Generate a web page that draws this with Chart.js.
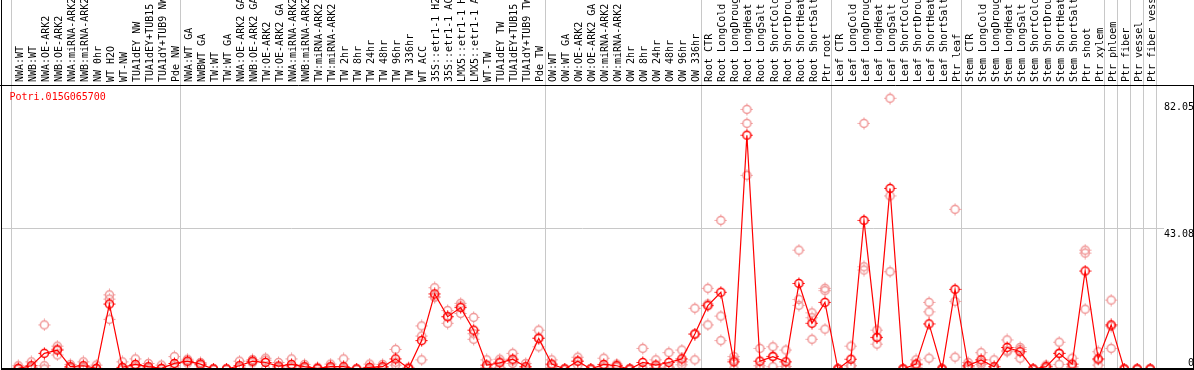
<!DOCTYPE html>
<html>
<head>
<meta charset="utf-8">
<script src="https://cdn.jsdelivr.net/npm/chart.js@4/dist/chart.umd.min.js"></script>
<style>
html,body{margin:0;padding:0;background:#fff;}
#wrap{width:1194px;height:370px;}
</style>
</head>
<body>
<div id="wrap"><canvas id="chart"></canvas></div>
<script>
const GENE="Potri.015G065700";

const categories=[
  "NWA:WT","NWB:WT","NWA:OE-ARK2","NWB:OE-ARK2","NWA:miRNA-ARK2","NWB:miRNA-ARK2","NW 0hr","WT H2O","WT-NW","TUA1dEY NW","TUA1dEY+TUB15 NW","TUA1dY+TUB9 NW","Pde NW",
  "NWA:WT GA","NWBWT GA","TW:WT","TW:WT GA","NWA:OE-ARK2 GA","NWB:OE-ARK2 GA","TW:OE-ARK2","TW:OE-ARK2 GA","NWA:miRNA-ARK2 GA","NWB:miRNA-ARK2 GA","TW:miRNA-ARK2","TW:miRNA-ARK2 GA",
  "TW 2hr","TW 8hr","TW 24hr","TW 48hr","TW 96hr","TW 336hr","WT ACC","35S::etr1-1 H2O","35S::etr1-1 ACC","LMX5::etr1-1 H2O","LMX5::etr1-1 ACC","WT-TW","TUA1dEY TW","TUA1dEY+TUB15 TW","TUA1dY+TUB9 TW","Pde TW",
  "OW:WT","OW:WT GA","OW:OE-ARK2","OW:OE-ARK2 GA","OW:miRNA-ARK2","OW:miRNA-ARK2 GA","OW 2hr","OW 8hr","OW 24hr","OW 48hr","OW 96hr","OW 336hr",
  "Root CTR","Root LongCold","Root LongDrought","Root LongHeat","Root LongSalt","Root ShortCold","Root ShortDrought","Root ShortHeat","Root ShortSalt","Ptr root",
  "Leaf CTR","Leaf LongCold","Leaf LongDrought","Leaf LongHeat","Leaf LongSalt","Leaf ShortCold","Leaf ShortDrought","Leaf ShortHeat","Leaf ShortSalt","Ptr leaf",
  "Stem CTR","Stem LongCold","Stem LongDrought","Stem LongHeat","Stem LongSalt","Stem ShortCold","Stem ShortDrought","Stem ShortHeat","Stem ShortSalt","Ptr shoot","Ptr xylem",
  "Ptr phloem","Ptr fiber","Ptr vessel","Ptr fiber vessel"
];
// index where each sample group starts (vertical separators)
const groupStarts=[0,13,41,53,63,73,84,85,86,87];

const means=[
  0.2,1.0,4.8,5.8,0.7,1.0,0.2,19.9,0.5,1.4,0.7,0.2,1.7,
  2.4,1.5,0,0,1.0,2.4,2.0,0.9,1.4,0.7,0.2,0.7,0.7,0,0.5,0.7,3.1,0.2,8.7,23.0,16.0,18.8,11.9,1.2,1.9,3.0,0.7,9.4,
  1.5,0,2.4,0,1.4,1.0,0,2.0,1.2,2.0,3.1,10.7,
  19.4,23.5,2.2,71.6,2.4,3.8,2.2,26.2,14.0,20.4,
  0,3.0,45.5,9.7,55.3,0,1.5,13.8,0,24.4,
  1.0,2.8,0.7,6.6,5.3,0,0.7,4.8,1.5,30.0,3.1,
  13.5,0,0,0
];
const rep1=[
  1.0,2.2,13.5,7.0,1.4,2.2,1.2,22.7,2.2,3.1,1.7,1.2,3.8,
  3.0,2.0,0,0,2.4,2.9,3.3,2.0,3.1,1.4,0.5,1.5,3.1,0,1.5,1.4,6.0,0.5,13.2,24.9,17.9,20.1,15.8,2.8,3.0,4.8,1.7,11.9,
  2.8,0,3.6,0,3.3,1.5,0,6.3,2.8,5.0,5.8,18.6,
  24.7,45.5,3.8,79.5,6.3,6.8,5.8,36.4,17.2,24.7,
  0,7.0,75.2,11.9,82.9,0,2.8,20.4,0,48.9,
  2.0,5.0,2.8,8.9,6.0,0,1.2,8.2,3.3,36.4,5.3,
  21.1,0,0,0
];
const rep2=[
  0,0.5,1.0,4.3,0.5,0.5,0,21.4,0,0.8,0.4,0,1.0,
  2.4,1.5,0,0,0.5,2.4,2.7,0.5,0.8,0.5,0,0.4,0,0,0,0.5,2.1,0,10.1,22.1,16.1,19.3,10.8,0.5,2.2,2.5,0.3,9.5,
  1.2,0,2.4,0,0.6,1.0,0,0,0.5,0.6,2.2,10.7,
  19.9,16.2,2.8,75.2,1.0,3.9,0.8,21.3,15.7,24.0,
  0,1.0,31.3,9.6,53.0,0,1.2,17.5,0,20.7,
  0.7,2.0,0,5.6,6.6,0,0.7,4.8,0.8,35.5,2.8,
  13.1,0,0,0
];
const rep3=[
  0,0.3,0,6.1,0.2,0.3,0,15.2,0,0.3,0,0,0.3,
  1.8,1.0,0,0,0.1,1.9,0,0.2,0.3,0.2,0,0.2,0,0,0,0.2,1.2,0,2.8,22.0,14.0,17.0,9.1,0.3,0.5,1.7,0,6.8,
  0.5,0,1.2,0,0.3,0.5,0,0,0.3,0.4,1.3,2.8,
  13.5,8.7,0,59.3,0,0.7,0,19.5,9.1,12.2,
  0,1.0,30.3,7.6,29.8,0,0.5,3.3,0,3.6,
  0.3,1.4,0,5.3,3.3,0,0.2,1.4,0.4,18.3,1.2,
  6.3,0,0,0
];
const yTicks=[0,43.08,82.05];
const yMax=86.97;
const xMin=-1.33, xMax=88.06;

const RED="#ff0000", PINK="rgb(240,150,150)", GRID="#c8c8c8";
const MONO="'DejaVu Sans Mono', monospace";

// small ring marker with four tick marks, like the original plot symbol
function marker(color){
  const c=document.createElement("canvas");
  c.width=13; c.height=13;
  const g=c.getContext("2d");
  g.strokeStyle=color; g.lineWidth=1.5;
  g.beginPath(); g.arc(6.5,6.5,4,0,Math.PI*2); g.stroke();
  g.lineWidth=1;
  g.beginPath();
  g.moveTo(6.5,0.5); g.lineTo(6.5,2.5);
  g.moveTo(6.5,10.5); g.lineTo(6.5,12.5);
  g.moveTo(0.5,6.5); g.lineTo(2.5,6.5);
  g.moveTo(10.5,6.5); g.lineTo(12.5,6.5);
  g.stroke();
  return c;
}

const meanPts=means.map((v,i)=>({x:i,y:v}));
const repPts=[];
[rep1,rep2,rep3].forEach(r=>r.forEach((v,i)=>repPts.push({x:i,y:v})));

const framePlugin={
  id:"frame",
  afterDraw(chart){
    const {ctx,chartArea}=chart;
    ctx.save();
    ctx.strokeStyle="#000";
    ctx.lineWidth=1;
    ctx.beginPath();
    ctx.moveTo(chartArea.left+0.5,0);
    ctx.lineTo(chartArea.left+0.5,chartArea.bottom+1);
    ctx.moveTo(0,chartArea.top+0.5);
    ctx.lineTo(chart.width,chartArea.top+0.5);
    ctx.moveTo(chart.width-0.5,chartArea.top);
    ctx.lineTo(chart.width-0.5,chartArea.bottom+1);
    ctx.stroke();
    ctx.lineWidth=2;
    ctx.beginPath();
    ctx.moveTo(chartArea.left,chartArea.bottom);
    ctx.lineTo(chart.width,chartArea.bottom);
    ctx.stroke();
    ctx.fillStyle=RED;
    ctx.font="10px "+MONO;
    ctx.textBaseline="middle";
    ctx.fillText(GENE,chartArea.left+8.5,chartArea.top+12);
    ctx.restore();
  }
};

new Chart(document.getElementById("chart"),{
  data:{
    datasets:[
      {type:"line",label:GENE,data:meanPts,borderColor:RED,borderWidth:1.2,
       pointStyle:marker(RED),pointRadius:5,pointHoverRadius:5,tension:0,order:1},
      {type:"scatter",label:"replicates",data:repPts,showLine:false,
       pointStyle:marker(PINK),pointRadius:5,pointHoverRadius:5,order:2}
    ]
  },
  options:{
    responsive:true,maintainAspectRatio:false,animation:false,
    layout:{autoPadding:false,padding:{left:1,bottom:1,top:0,right:0}},
    plugins:{legend:{display:false},tooltip:{enabled:false}},
    scales:{
      x:{
        type:"linear",position:"top",min:xMin,max:xMax,
        afterBuildTicks:s=>{s.ticks=categories.map((_,i)=>({value:i}));},
        afterFit:s=>{s.height=85;s.paddingLeft=0;s.paddingRight=0;},
        border:{display:false},
        grid:{
          offset:true,drawTicks:true,tickLength:85,lineWidth:1,
          color:c=>(c.index===undefined||groupStarts.includes(c.index))?GRID:"rgba(0,0,0,0)"
        },
        ticks:{
          autoSkip:false,minRotation:90,maxRotation:90,padding:-82,labelOffset:14,
          color:"#000",font:{family:MONO,size:10},
          callback:v=>categories[v]
        }
      },
      y:{
        type:"linear",position:"right",min:0,max:yMax,
        afterBuildTicks:s=>{s.ticks=yTicks.map(v=>({value:v}));},
        afterFit:s=>{s.width=30;s.paddingTop=0;s.paddingBottom=0;},
        border:{display:false},
        grid:{drawTicks:false,color:c=>(c.tick&&c.tick.value===43.08)?GRID:"rgba(0,0,0,0)"},
        ticks:{
          crossAlign:"far",padding:-1.5,color:"#000",font:{family:MONO,size:10},
          callback:v=>v===0?["0",""]:["",v.toFixed(2)]
        }
      }
    }
  },
  plugins:[framePlugin]
});
</script>
</body>
</html>
